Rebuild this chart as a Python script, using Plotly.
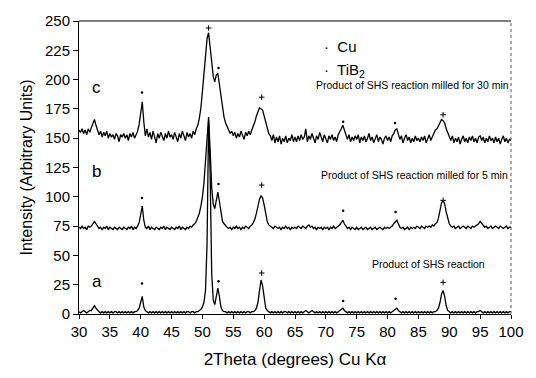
import plotly.graph_objects as go

# 2Theta grid: 30..100 in 0.25 degree steps (281 samples)
two_theta_start = 30.0
two_theta_step = 0.25

# Series c: product of SHS reaction milled for 30 min
c_vals = [
    157, 155, 158, 154, 157, 153, 158, 155, 159, 162, 166, 161, 157, 153, 156, 151, 155, 152, 156, 150,
    154, 151, 153, 149, 154, 152, 147, 153, 151, 154, 150, 153, 148, 154, 151, 155, 150, 153, 156, 162,
    172, 181, 164, 152, 158, 151, 155, 149, 156, 152, 146, 154, 150, 155, 151, 148, 154, 150, 156, 151,
    153, 149, 155, 151, 147, 154, 150, 156, 152, 148, 155, 151, 154, 150, 156, 153, 158, 161, 167, 176,
    190, 205, 222, 235, 240, 228, 212, 203, 198, 204, 205, 196, 184, 174, 168, 163, 160, 157, 154, 156,
    152, 155, 150, 154, 151, 156, 152, 149, 155, 152, 156, 153, 157, 160, 164, 169, 173, 176, 175, 174,
    169, 163, 158, 154, 152, 148, 153, 146, 151, 147, 152, 145, 150, 147, 152, 146, 150, 148, 153, 147,
    151, 147, 152, 148, 153, 149, 151, 158, 147, 152, 149, 154, 150, 146, 152, 149, 155, 150, 147, 153,
    150, 146, 152, 149, 153, 148, 151, 147, 153, 155, 158, 161, 157, 152, 149, 153, 147, 151, 148, 152,
    149, 153, 146, 151, 148, 152, 147, 150, 154, 148, 151, 146, 150, 153, 147, 151, 149, 145, 150, 152,
    148, 151, 147, 152, 154, 157, 158, 153, 149, 152, 146, 150, 153, 148, 151, 146, 150, 147, 152, 148,
    150, 147, 151, 148, 152, 146, 150, 153, 148, 151, 154, 157, 158, 161, 164, 166, 165, 163, 158, 154,
    151, 148, 152, 146, 150, 147, 151, 145, 149, 152, 147, 150, 146, 151, 148, 152, 147, 150, 146, 151,
    152, 148, 151, 146, 150, 147, 152, 148, 150, 146, 151, 147, 150, 145, 149, 152, 147, 150, 146, 149,
    148,
]

# Series b: product of SHS reaction milled for 5 min
b_vals = [
    74, 73, 75, 73, 74, 72, 75, 74, 75, 77, 79, 77, 75, 73, 74, 72, 74, 73, 75, 72,
    74, 73, 72, 74, 73, 72, 74, 73, 72, 74, 73, 72, 74, 73, 75, 72, 74, 73, 75, 78,
    85, 92, 80, 74, 73, 75, 72, 74, 73, 72, 74, 73, 72, 74, 73, 75, 72, 74, 73, 72,
    74, 73, 72, 74, 73, 75, 72, 74, 73, 72, 74, 73, 75, 74, 76, 77, 79, 82, 86, 92,
    100, 112, 130, 155, 168, 140, 108, 94, 90, 97, 104, 96, 85, 79, 77, 75, 74, 73, 74, 72,
    74, 73, 75, 73, 74, 72, 74, 73, 75, 74, 73, 75, 76, 78, 81, 86, 92, 98, 101, 99,
    93, 85, 79, 76, 75, 74, 73, 75, 74, 73, 74, 72, 74, 73, 75, 73, 74, 72, 74, 73,
    74, 73, 75, 74, 73, 75, 74, 73, 75, 76, 74, 75, 73, 74, 72, 74, 73, 74, 72, 74,
    73, 74, 72, 74, 73, 75, 73, 74, 75, 76, 78, 80, 77, 75, 73, 74, 72, 74, 73, 72,
    74, 72, 73, 74, 72, 73, 74, 72, 73, 74, 72, 73, 74, 72, 73, 74, 73, 72, 74, 73,
    74, 73, 74, 75, 77, 79, 80, 77, 74, 73, 74, 72, 73, 74, 72, 74, 73, 74, 73, 75,
    74, 73, 75, 74, 73, 75, 74, 75, 74, 76, 75, 77, 78, 82, 88, 95, 97, 94, 87, 81,
    77, 75, 74, 75, 73, 74, 75, 73, 74, 75, 74, 73, 75, 74, 73, 75, 74, 75, 76, 77,
    79, 77, 75, 74, 75, 73, 74, 75, 73, 74, 75, 74, 73, 75, 74, 73, 74, 75, 73, 74,
    74,
]

# Series a: product of SHS reaction
a_vals = [
    2, 1, 2, 3, 2, 1, 2, 3, 3, 5, 7, 5, 3, 2, 1, 2, 1, 2, 1, 2,
    1, 2, 1, 2, 2, 1, 2, 1, 2, 1, 2, 1, 2, 1, 2, 1, 2, 2, 3, 5,
    10, 15, 6, 3, 2, 1, 2, 1, 2, 1, 2, 1, 2, 1, 2, 1, 2, 1, 2, 1,
    2, 1, 2, 1, 2, 1, 2, 1, 2, 1, 2, 2, 1, 2, 2, 1, 2, 2, 3, 4,
    6, 10, 20, 60, 165, 120, 35, 12, 8, 14, 22, 15, 6, 3, 2, 2, 1, 2, 1, 2,
    1, 2, 1, 2, 1, 2, 1, 2, 1, 2, 2, 1, 2, 2, 3, 5, 10, 20, 29, 24,
    12, 5, 3, 2, 1, 2, 1, 2, 1, 2, 1, 2, 1, 2, 2, 1, 2, 1, 2, 1,
    2, 1, 2, 1, 2, 1, 2, 3, 2, 1, 2, 3, 2, 1, 2, 1, 2, 1, 2, 1,
    2, 1, 2, 1, 2, 1, 2, 1, 2, 3, 4, 5, 3, 2, 1, 2, 1, 2, 1, 2,
    1, 2, 1, 2, 1, 2, 1, 2, 1, 2, 1, 2, 1, 2, 1, 2, 1, 2, 1, 2,
    1, 2, 1, 2, 3, 4, 5, 3, 2, 1, 2, 1, 2, 1, 2, 1, 2, 1, 2, 1,
    2, 1, 2, 1, 2, 1, 2, 1, 2, 1, 2, 2, 3, 5, 10, 17, 20, 15, 7, 3,
    2, 1, 2, 1, 2, 1, 2, 1, 2, 1, 2, 1, 2, 1, 2, 1, 2, 1, 2, 2,
    3, 2, 1, 2, 1, 2, 1, 2, 1, 2, 1, 2, 1, 2, 1, 2, 1, 2, 1, 2,
    2,
]

# Peak identification marks ("dot" = Cu-type mark, "plus" = TiB2-type mark)
dot_x = [40.2, 52.6, 72.8, 81.2, 40.2, 52.6, 72.8, 81.3, 40.2, 52.6, 72.8, 81.3]
dot_y = [189, 210, 164, 163, 99, 111, 88, 87, 26, 28, 11, 13]
plus_x = [51.0, 59.6, 89.0, 59.6, 89.0, 59.6, 89.0]
plus_y = [244, 185, 170, 110, 97, 35, 27]

series_labels = ["c", "b", "a"]
series_label_y = [193, 122, 28]
caption_texts = ["Product of SHS reaction milled for 30 min",
                 "Product of SHS reaction milled for 5 min",
                 "Product of SHS reaction"]
caption_x = [84.0, 84.4, 86.7]
caption_y = [195, 119, 43]

x_tick_vals = list(range(30, 101, 5))
y_tick_vals = list(range(0, 251, 25))

n = len(a_vals)
two_theta = [two_theta_start + two_theta_step * i for i in range(n)]

FONT = "Arial, Liberation Sans, sans-serif"

fig = go.Figure()
for vals in (a_vals, b_vals, c_vals):
    fig.add_trace(go.Scatter(x=two_theta, y=vals, mode="lines",
                             line=dict(color="black", width=1.3), showlegend=False,
                             hoverinfo="skip"))

fig.add_trace(go.Scatter(x=dot_x, y=dot_y, mode="markers",
                         marker=dict(symbol="circle", size=2.5, color="black"),
                         showlegend=False))
fig.add_trace(go.Scatter(x=plus_x, y=plus_y, mode="markers",
                         marker=dict(symbol="cross-thin", size=4, color="black",
                                     line=dict(width=1, color="black")),
                         showlegend=False))

annotations = []
for lab, ly in zip(series_labels, series_label_y):
    annotations.append(dict(x=32.9, y=ly, text=lab, showarrow=False,
                            font=dict(family=FONT, size=17, color="black")))
for t, cx, cy in zip(caption_texts, caption_x, caption_y):
    annotations.append(dict(x=cx, y=cy, text=t, showarrow=False,
                            font=dict(family=FONT, size=10.5, color="black")))
# legend-like labels
annotations.append(dict(x=0.562, y=0.948, xref="paper", yref="paper", xanchor="left",
                        text="·  Cu", showarrow=False,
                        font=dict(family=FONT, size=15, color="black")))
annotations.append(dict(x=0.562, y=0.87, xref="paper", yref="paper", xanchor="left",
                        text="·  TiB<sub>2</sub>", showarrow=False,
                        font=dict(family=FONT, size=15, color="black")))

fig.update_layout(
    width=536, height=378,
    margin=dict(l=79, r=17, t=19, b=59),
    paper_bgcolor="white", plot_bgcolor="white",
    font=dict(family=FONT, size=15, color="black"),
    annotations=annotations,
    shapes=[
        dict(type="line", xref="paper", yref="paper", x0=0, x1=1, y0=1, y1=1,
             line=dict(color="black", width=1)),
        dict(type="line", xref="paper", yref="paper", x0=1, x1=1, y0=0, y1=1,
             line=dict(color="#555", width=1, dash="dot")),
    ],
    xaxis=dict(range=[30, 100], tickvals=x_tick_vals, ticks="outside", ticklen=4,
               tickcolor="black", showline=True, linecolor="black", linewidth=1,
               showgrid=False, zeroline=False,
               tickfont=dict(family=FONT, size=15),
               title=dict(text="2Theta (degrees) Cu Kα", standoff=14,
                          font=dict(family=FONT, size=17))),
    yaxis=dict(range=[0, 250], tickvals=y_tick_vals, ticks="outside", ticklen=5,
               tickcolor="black", showline=True, linecolor="black", linewidth=1,
               showgrid=False, zeroline=False,
               tickfont=dict(family=FONT, size=15),
               title=dict(text="Intensity (Arbitrary Units)", standoff=8,
                          font=dict(family=FONT, size=16))),
)

fig.write_html("out.html")
